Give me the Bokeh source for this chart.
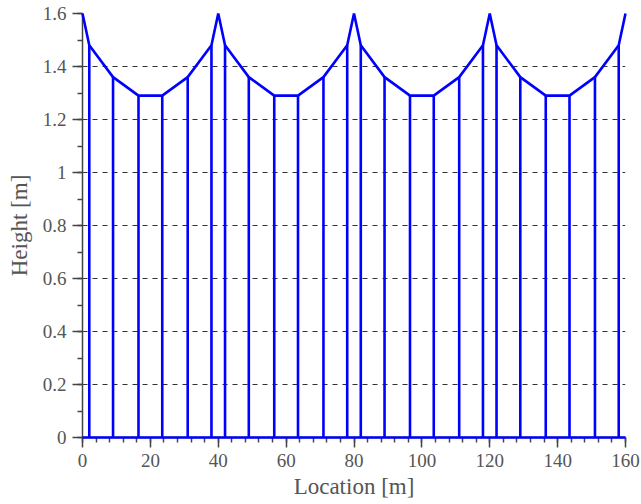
from bokeh.plotting import figure
from bokeh.models import Range1d, SingleIntervalTicker
from bokeh.embed import file_html
from bokeh.resources import INLINE

# Profile polyline (location [m], height [m])
profile_x = [0, 2, 9, 16.5, 23.5, 31, 38, 40, 42, 49, 56.5, 63.5, 71, 78, 80,
             82, 89, 96.5, 103.5, 111, 118, 120, 122, 129, 136.5, 143.5, 151, 158, 160]
profile_h = [1.6, 1.48, 1.36, 1.29, 1.29, 1.36, 1.48, 1.6, 1.48, 1.36, 1.29, 1.29, 1.36, 1.48, 1.6,
             1.48, 1.36, 1.29, 1.29, 1.36, 1.48, 1.6, 1.48, 1.36, 1.29, 1.29, 1.36, 1.48, 1.6]

# Vertical members
stem_x = [2, 9, 16.5, 23.5, 31, 38, 42, 49, 56.5, 63.5, 71, 78,
          82, 89, 96.5, 103.5, 111, 118, 122, 129, 136.5, 143.5, 151, 158]
stem_h = [1.48, 1.36, 1.29, 1.29, 1.36, 1.48, 1.48, 1.36, 1.29, 1.29, 1.36, 1.48,
          1.48, 1.36, 1.29, 1.29, 1.36, 1.48, 1.48, 1.36, 1.29, 1.29, 1.36, 1.48]
stem_base = [0] * len(stem_x)

# Base line
base_x = [0, 160]
base_y = [0, 0]

x_ticks = [0, 20, 40, 60, 80, 100, 120, 140, 160]
y_ticks = [0, 0.2, 0.4, 0.6, 0.8, 1.0, 1.2, 1.4, 1.6]
y_tick_labels = ["0", "0.2", "0.4", "0.6", "0.8", "1", "1.2", "1.4", "1.6"]

BLUE = "#0000ff"
GRAY = "#444444"
FONT = "Liberation Serif"

p = figure(width=641, height=504, output_backend="svg", toolbar_location=None,
           x_range=Range1d(0, 160), y_range=Range1d(0, 1.6),
           min_border_left=82, min_border_right=16, min_border_top=13, min_border_bottom=67)
p.outline_line_color = None
p.background_fill_color = "white"
p.border_fill_color = "white"

p.segment(x0=stem_x, y0=stem_base, x1=stem_x, y1=stem_h, line_color=BLUE, line_width=2.6, level="overlay")
p.line(profile_x, profile_h, line_color=BLUE, line_width=2.6, level="overlay")
p.line(base_x, base_y, line_color=BLUE, line_width=2.6, level="overlay")

p.xgrid.grid_line_color = None
p.ygrid.grid_line_color = "#333333"
p.ygrid.grid_line_dash = "5 5"
p.ygrid.grid_line_width = 1.1

p.xaxis.ticker = SingleIntervalTicker(interval=20, num_minor_ticks=5)
p.yaxis.ticker = SingleIntervalTicker(interval=0.2, num_minor_ticks=2)
p.yaxis.major_label_overrides = {t: l for t, l in zip(y_ticks, y_tick_labels)}

for ax in (p.xaxis, p.yaxis):
    ax.axis_line_color = GRAY
    ax.axis_line_width = 1.5
    ax.major_tick_line_color = GRAY
    ax.minor_tick_line_color = GRAY
    ax.major_tick_line_width = 1.5
    ax.minor_tick_line_width = 1.5
    ax.major_tick_in = 0
    ax.major_tick_out = 10
    ax.minor_tick_in = 0
    ax.minor_tick_out = 5
    ax.major_label_text_font = FONT
    ax.major_label_text_font_size = "19px"
    ax.major_label_text_color = "#555555"
    ax.axis_label_text_font = FONT
    ax.axis_label_text_font_size = "23px"
    ax.axis_label_text_font_style = "normal"
    ax.axis_label_text_color = "#555555"

p.xaxis.axis_label = "Location [m]"
p.yaxis.axis_label = "Height [m]"
p.xaxis.major_label_standoff = 6
p.yaxis.major_label_standoff = 6
p.xaxis.axis_label_standoff = 4
p.yaxis.axis_label_standoff = 8

open("out.html", "w").write(file_html(p, INLINE))
